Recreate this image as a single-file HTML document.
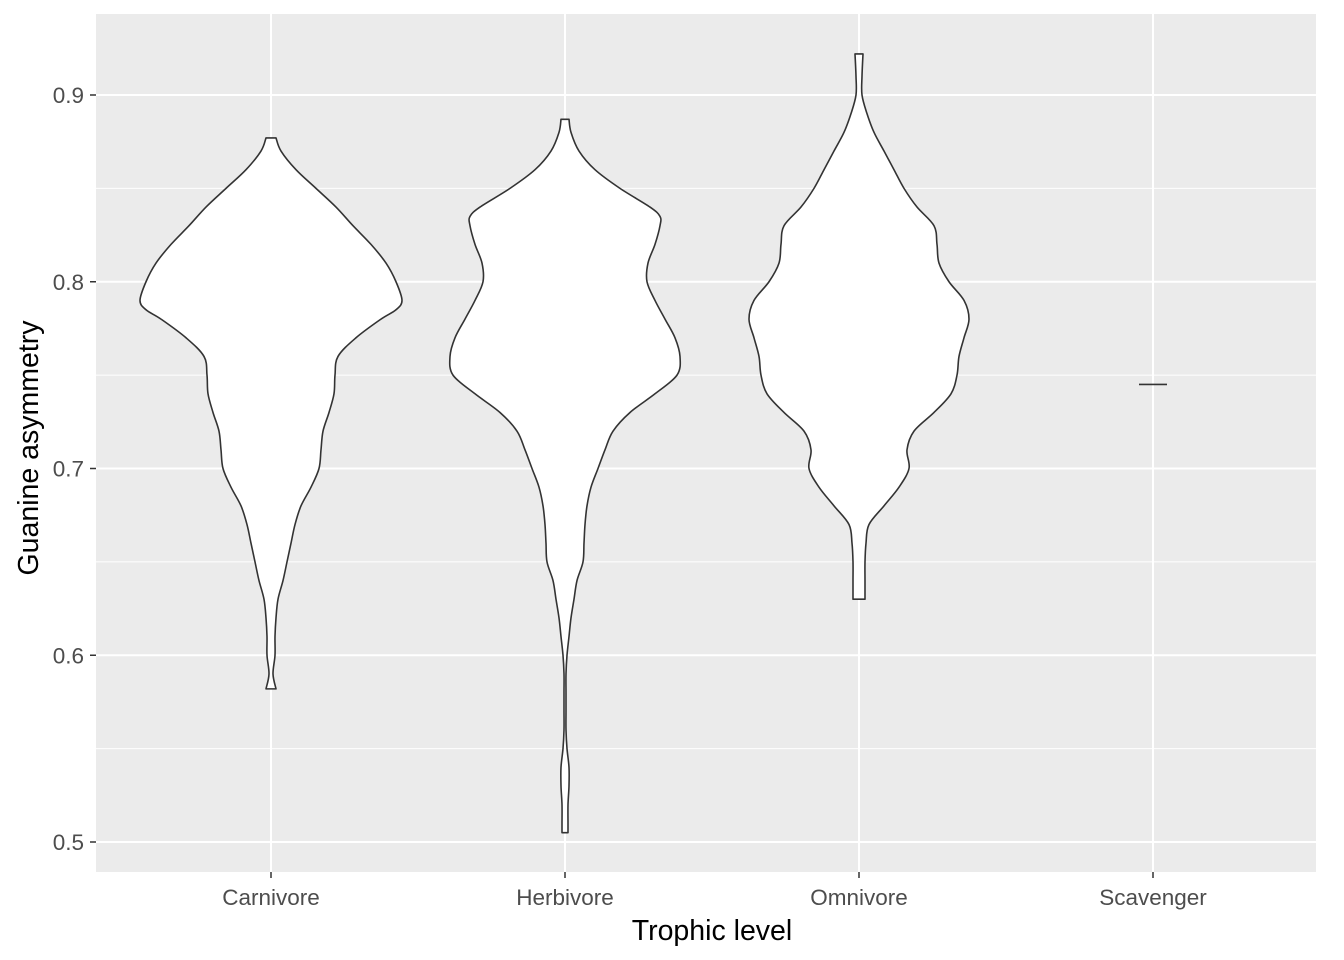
<!DOCTYPE html>
<html><head><meta charset="utf-8"><style>
body{margin:0;background:#fff}
svg{display:block;font-family:"Liberation Sans",sans-serif}
</style></head><body>
<svg id="chart" width="1344" height="960">
<rect x="96" y="14" width="1220" height="858" fill="#ebebeb"/>
<g id="grid"></g><g id="violins"></g><g id="axes"></g>
<text x="712" y="940" text-anchor="middle" font-size="28.5" fill="#000">Trophic level</text>
<text transform="translate(38,448) rotate(-90)" text-anchor="middle" font-size="28.5" fill="#000">Guanine asymmetry</text>
</svg>
<script>
const categories=["Carnivore","Herbivore","Omnivore","Scavenger"];
const yTicks=[0.5,0.6,0.7,0.8,0.9];
const carnY=[0.877,0.87,0.86,0.85,0.84,0.83,0.82,0.81,0.80,0.79,0.785,0.78,0.77,0.76,0.75,0.74,0.73,0.72,0.71,0.70,0.69,0.68,0.67,0.66,0.65,0.64,0.63,0.62,0.61,0.60,0.59,0.582];
const carnW=[5,10,25,45,65,82,100,115,125,131,125,110,85,67,64,63,58,52,50,48,40,30,24,20,16,12,7,5,4,4,2,5];
const herbY=[0.887,0.88,0.87,0.86,0.85,0.84,0.835,0.83,0.82,0.81,0.80,0.79,0.78,0.77,0.76,0.75,0.74,0.73,0.72,0.71,0.70,0.69,0.68,0.67,0.66,0.65,0.64,0.63,0.62,0.61,0.60,0.59,0.58,0.57,0.56,0.55,0.54,0.53,0.52,0.51,0.505];
const herbW=[4,6,14,30,55,85,95,95,90,83,82,90,100,110,115,112,90,65,48,40,33,26,22,20,19,18,12,9,6,4,2,1,1,1,1,2,4,4,3,3,3];
const omniY=[0.922,0.91,0.90,0.89,0.88,0.87,0.86,0.85,0.84,0.83,0.82,0.81,0.80,0.79,0.78,0.77,0.76,0.75,0.74,0.73,0.72,0.71,0.70,0.69,0.68,0.67,0.66,0.65,0.64,0.63];
const omniW=[4,3,3,8,15,25,35,45,58,75,78,80,90,105,110,105,100,98,92,75,55,48,50,40,25,10,7,6,6,6];
const scavY=[0.745];
const scavW=[14];
const series=[[carnY,carnW],[herbY,herbW],[omniY,omniW],[scavY,scavW]];
const NS="http://www.w3.org/2000/svg";
const xS=i=>271+i*294;
const yS=v=>842-(v-0.5)*1867.5;
function mk(t,a,p){const e=document.createElementNS(NS,t);for(const k in a)e.setAttribute(k,a[k]);p.appendChild(e);return e;}
function smooth(pts){let d='';for(let i=0;i<pts.length-1;i++){const p0=pts[Math.max(0,i-1)],p1=pts[i],p2=pts[i+1],p3=pts[Math.min(pts.length-1,i+2)];
const c1=[p1[0]+(p2[0]-p0[0])/6,p1[1]+(p2[1]-p0[1])/6],c2=[p2[0]-(p3[0]-p1[0])/6,p2[1]-(p3[1]-p1[1])/6];
d+=`C${c1[0]},${c1[1]} ${c2[0]},${c2[1]} ${p2[0]},${p2[1]}`;}return d;}
const grid=document.getElementById('grid'),vio=document.getElementById('violins'),axes=document.getElementById('axes');
for(let v=0.45;v<=0.951;v+=0.1){const y=yS(v);if(y<14||y>872)continue;const l=mk('line',{x1:96,x2:1316,y1:y,y2:y,stroke:'#fff','stroke-width':1},grid);

}
yTicks.forEach(v=>{const y=yS(v);const l=mk('line',{x1:96,x2:1316,y1:y,y2:y,stroke:'#fff','stroke-width':2},grid);


const t=mk('line',{x1:90,x2:96,y1:y,y2:y,stroke:'#333','stroke-width':1.5},axes);


const tx=mk('text',{x:84,y:y+8,'text-anchor':'end','font-size':22.5,fill:'#4d4d4d'},axes);tx.textContent=v.toFixed(1);

});
categories.forEach((c,i)=>{const x=xS(i);const l=mk('line',{x1:x,x2:x,y1:14,y2:872,stroke:'#fff','stroke-width':2},grid);


const t=mk('line',{x1:x,x2:x,y1:872,y2:878,stroke:'#333','stroke-width':1.5},axes);


const tx=mk('text',{x:x,y:905,'text-anchor':'middle','font-size':22.5,fill:'#4d4d4d'},axes);tx.textContent=c;


const [ys,ws]=series[i];let d;
if(ys.length===1){const y=yS(ys[0]);d=`M${x-ws[0]},${y}L${x+ws[0]},${y}`;}
else{const r=ys.map((v,k)=>[x+ws[k],yS(v)]);const lft=ys.map((v,k)=>[x-ws[k],yS(v)]).reverse();
d=`M${r[0][0]},${r[0][1]}`+smooth(r)+`L${lft[0][0]},${lft[0][1]}`+smooth(lft)+'Z';}
const p=mk('path',{d:d,fill:'#fff',stroke:'#333','stroke-width':1.6,'stroke-linejoin':'round'},vio);

});
</script>
</body></html>
